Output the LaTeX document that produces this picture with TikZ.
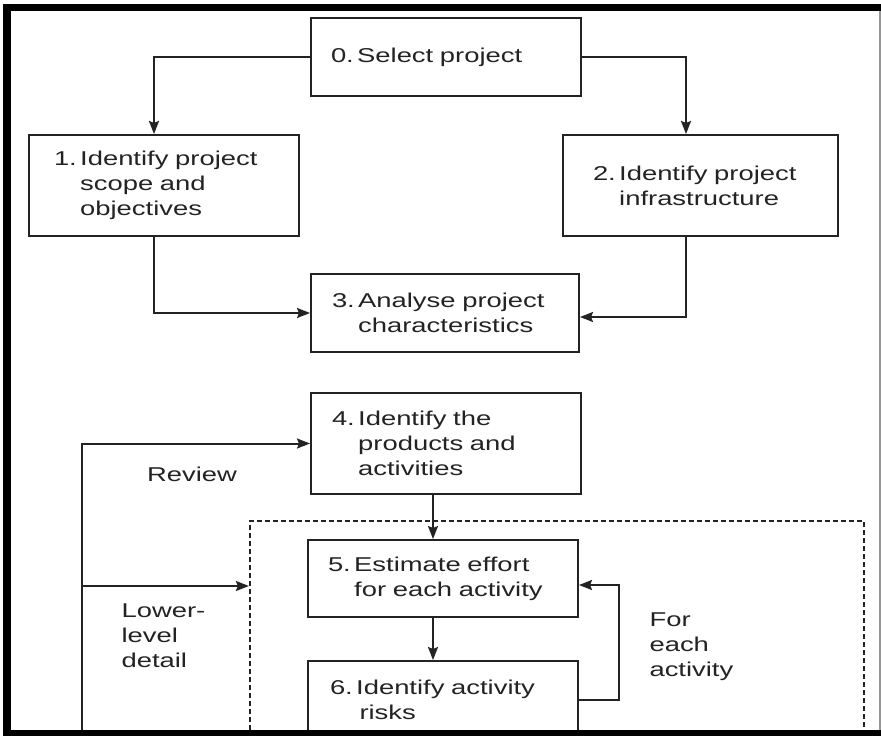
\documentclass[tikz,border=0pt]{standalone}
\usepackage{fontspec}
\setmainfont{Liberation Sans}[FakeStretch=1.37]
\usepackage{tikz}
\usetikzlibrary{arrows.meta, positioning, calc}
\definecolor{inkgray}{RGB}{35, 35, 35}
\definecolor{framegray}{RGB}{150, 150, 150}
\newcommand{\stepindent}{\phantom{0.\,}}
\tikzset{
    stepbox/.style={
        rectangle, draw=inkgray, line width=2pt, fill=white, text=inkgray,
        font=\fontsize{20}{25}\selectfont, align=left, inner ysep=0pt
    },
    groupbox/.style={rectangle, draw=inkgray, line width=2.2pt, dash pattern=on 5pt off 3pt, inner sep=0pt},
    arrow/.style={-{Stealth[length=13pt, width=10pt, inset=2pt]}, line width=2pt, color=inkgray},
    label/.style={font=\fontsize{20}{25}\selectfont, text=inkgray, align=left},
}

\begin{document}
\begin{tikzpicture}[x=1pt, y=-1pt]
    \useasboundingbox (0,0) rectangle (881,736);
    \fill[white] (0,0) rectangle (881,736);

    \node[groupbox, minimum width=614pt, minimum height=240pt] (group) at (557,641) {};

    \node[stepbox, text width=230pt, inner xsep=20pt, minimum height=78pt] (select) at (446,57) {0.\,Select project};
    \node[stepbox, text width=220pt, inner xsep=25pt, minimum height=101pt] (scope) at (164,185.5) {1.\,Identify project\\\stepindent scope and\\\stepindent objectives};
    \node[stepbox, text width=215pt, inner xsep=30pt, minimum height=101pt] (infra) at (700.5,185.5) {2.\,Identify project\\\stepindent infrastructure};
    \node[stepbox, text width=226pt, inner xsep=21pt, minimum height=78pt] (analyse) at (445,313) {3.\,Analyse project\\\stepindent characteristics};
    \node[stepbox, text width=228pt, inner xsep=21pt, minimum height=101pt] (products) at (446,443.5) {4.\,Identify the\\\stepindent products and\\\stepindent activities};
    \node[stepbox, text width=230pt, inner xsep=20pt, minimum height=77pt] (effort) at (443,578.5) {5.\,Estimate effort\\\stepindent for each activity};
    \node[stepbox, text width=226pt, inner xsep=22pt, minimum height=78pt] (risks) at (443,700) {6.\,Identify activity\\\stepindent\,risks};

    \coordinate (reviewfoot) at (82,745);
    \coordinate (reviewbranch) at (82,586);

    \draw[arrow] (select.west) -| ([xshift=-10pt]scope.north);
    \draw[arrow] (select.east) -| ([xshift=-14.5pt]infra.north);
    \draw[arrow] ([xshift=-10pt]scope.south) |- (analyse.west);
    \draw[arrow] ([xshift=-14.5pt]infra.south) |- ([yshift=-4pt]analyse.east);
    \draw[arrow] (reviewfoot) |- (products.west);
    \draw[arrow] (reviewbranch) -- (reviewbranch -| group.west);
    \draw[arrow] ([xshift=-13pt]products.south) -- ([xshift=-10pt]effort.north);
    \draw[arrow] ([xshift=-10pt]effort.south) -- ([xshift=-10pt]risks.north);
    \draw[arrow] (risks.east) -- ++(40,0) |- ([yshift=-6.5pt]effort.east);

    \node[label] (review) at (192,474) {Review};
    \node[label, anchor=west] (lower) at (118,636) {Lower-\\level\\detail};
    \node[label, anchor=west] (foreach) at (646,647) {For\\each\\activity};

    % frame of the page
    \fill[black] (3,4) rectangle (881,11);
    \fill[black] (3,4) rectangle (11,736);
    \fill[black] (3,730) rectangle (881,736);
    \fill[framegray] (879.2,11) rectangle (880.6,730);
\end{tikzpicture}
\end{document}
